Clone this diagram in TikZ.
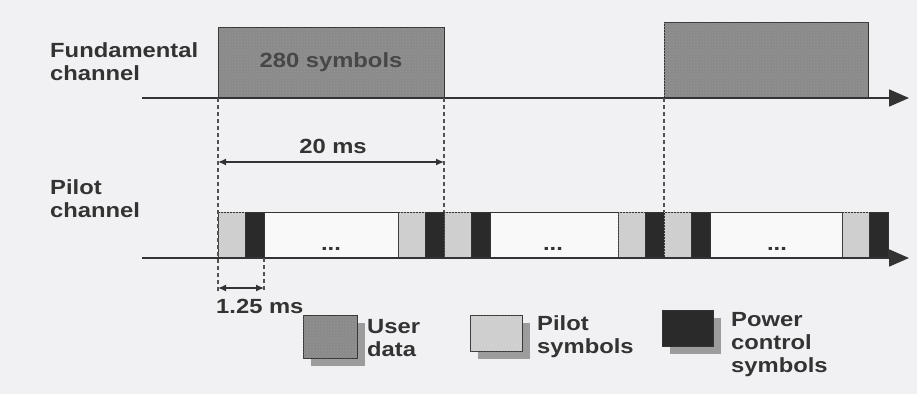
\documentclass[tikz,border=0pt]{standalone}
\usepackage{fontspec}
\setmainfont{Liberation Sans}[FakeStretch=1.16]
\usetikzlibrary{arrows.meta,patterns,shadows}
\definecolor{bgc}{HTML}{F1F1F3}
\definecolor{udc}{HTML}{8A8A8A}
\definecolor{pilc}{HTML}{CFCFCF}
\definecolor{pwrc}{HTML}{2A2A2A}
\definecolor{ink}{HTML}{333333}
\definecolor{shc}{HTML}{9C9C9C}
\newcommand\mylbl{\fontsize{20.5}{23}\selectfont\bfseries}
\begin{document}
\begin{tikzpicture}[x=1pt,y=-1pt,
  lbl/.style={font=\mylbl, text=ink, align=left, inner sep=0pt, anchor=west},
  udbox/.style={draw=ink, line width=0.8pt, fill=udc,
     postaction={pattern=crosshatch dots, pattern color=black!40},
     inner sep=0pt, outer sep=0pt, font=\mylbl, text=ink!90},
  pilbox/.style={draw=ink, line width=0.8pt, fill=pilc,
     postaction={pattern=crosshatch dots, pattern color=black!18}},
  pwrbox/.style={draw=ink, line width=0.8pt, fill=pwrc},
  axisline/.style={draw=ink, line width=1.8pt, -{Triangle[length=20pt,width=17pt]}},
  dashln/.style={draw=ink!85, line width=1.1pt, dash pattern=on 4pt off 3pt},
  dimarrow/.style={draw=ink, line width=1.2pt, {Latex[length=8pt,width=7pt]}-{Latex[length=8pt,width=7pt]}},
  legshadow/.style={drop shadow={shadow xshift=8pt, shadow yshift=-8pt, opacity=1, fill=shc}}
]
\useasboundingbox (0,0) rectangle (917,394);
\fill[bgc] (0,0) rectangle (917,394);

% labels
\node[lbl] (fundlbl) at (50,62) {Fundamental\\channel};
\node[lbl] (pilotlbl) at (50,199) {Pilot\\channel};

% fundamental channel frames
\node[udbox, minimum width=226pt, minimum height=71pt, anchor=south west] (fd1) at (218,98) {280 symbols};
\node[udbox, minimum width=204pt, minimum height=76pt, anchor=south west] (fd2) at (664,98) {};

% fundamental axis
\coordinate (fa0) at (142,98);
\coordinate (fa1) at (909,98);
\draw[axisline] (fa0) -- (fa1);

% pilot row
\coordinate (pr0) at (218,212);
\coordinate (pr1) at (888,258);
\draw[ink, line width=0.8pt, fill=white!60!bgc] (pr0) rectangle (pr1);
\foreach \s in {218,398,444,618,664,842}{
  \draw[pilbox] (\s,212) rectangle ++(27,46);
  \draw[pwrbox] (\s+27,212) rectangle ++(19,46);
}
\node[font=\mylbl, text=ink, anchor=base] (dots1) at (331,250) {...};
\node[font=\mylbl, text=ink, anchor=base] (dots2) at (553,250) {...};
\node[font=\mylbl, text=ink, anchor=base] (dots3) at (777,250) {...};

% pilot axis
\coordinate (pa0) at (142,258);
\coordinate (pa1) at (909,258);
\draw[axisline] (pa0) -- (pa1);

% dashed frame boundaries
\coordinate (d1b) at (218,292);
\coordinate (d2b) at (444,212);
\coordinate (d3b) at (664,212);
\draw[dashln] (fd1.south west) -- (d1b);
\draw[dashln] (fd1.south east) -- (d2b);
\draw[dashln] (fd2.south west) -- (d3b);
\coordinate (s1t) at (264,258);
\coordinate (s1b) at (264,292);
\draw[dashln] (s1t) -- (s1b);

% 20 ms
\coordinate (t20a) at (218,162);
\coordinate (t20b) at (444,162);
\draw[dimarrow] (t20a) -- (t20b);
\node[font=\mylbl, text=ink, anchor=base] (lbl20) at (333,153) {20 ms};

% 1.25 ms
\coordinate (t125a) at (218,288);
\coordinate (t125b) at (264,288);
\draw[dimarrow] (t125a) -- (t125b);
\node[lbl] (lbl125) at (216,306) {1.25 ms};

% legend
\node[udbox, legshadow, minimum width=54pt, minimum height=43pt, anchor=north west] (lgud) at (303,315) {};
\node[lbl] (lgudt) at (367,338) {User\\data};
\node[pilbox, legshadow, inner sep=0pt, outer sep=0pt, minimum width=52pt, minimum height=36pt, anchor=north west] (lgpil) at (470,315) {};
\node[lbl] (lgpilt) at (537,337) {Pilot\\symbols};
\node[pwrbox, legshadow, inner sep=0pt, outer sep=0pt, minimum width=51pt, minimum height=36pt, anchor=north west] (lgpwr) at (662,310) {};
\node[lbl] (lgpwrt) at (731,345) {Power\\control\\symbols};
\end{tikzpicture}
\end{document}
